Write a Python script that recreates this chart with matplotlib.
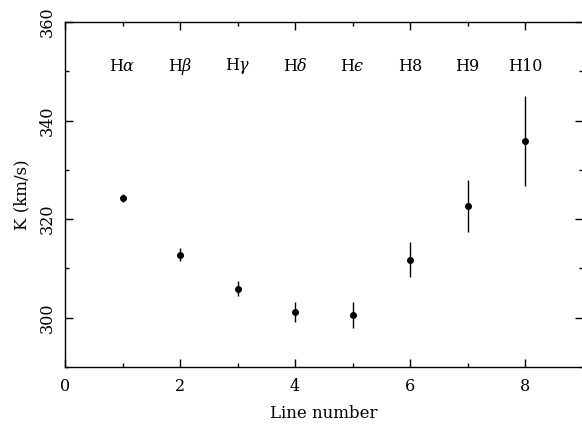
import matplotlib
matplotlib.use("Agg")
import matplotlib.pyplot as plt
from matplotlib.ticker import MultipleLocator

line_number = [1, 2, 3, 4, 5, 6, 7, 8]
K = [324.2, 312.8, 305.9, 301.1, 300.6, 311.8, 322.7, 335.9]
K_err = [0.8, 1.3, 1.5, 2.0, 2.6, 3.5, 5.3, 9.1]
line_names = ["H$\\alpha$", "H$\\beta$", "H$\\gamma$", "H$\\delta$",
              "H$\u03f5$", "H8", "H9", "H10"]

plt.rcParams['mathtext.fontset'] = 'dejavuserif'
plt.rcParams['font.family'] = ['DejaVu Serif']

fig = plt.figure(figsize=(5.82, 4.33), dpi=100)
ax = fig.add_axes([65/582, 66/433, 517.5/582, 345/433])

ax.errorbar(line_number, K, yerr=K_err, fmt='o', color='black', ms=4,
            elinewidth=1, capsize=0)
for x, name in zip(line_number, line_names):
    ax.text(x, 351, name, ha='center', va='center', fontsize=11.5)

ax.set_xlim(0, 9)
ax.set_ylim(290, 360)
ax.xaxis.set_major_locator(MultipleLocator(2))
ax.xaxis.set_minor_locator(MultipleLocator(1))
ax.yaxis.set_major_locator(MultipleLocator(20))
ax.yaxis.set_minor_locator(MultipleLocator(10))
ax.tick_params(which='both', direction='in', top=True, right=True, labelsize=11.5)
ax.tick_params(which='major', length=6, width=1)
ax.tick_params(which='minor', length=3, width=1)
ax.tick_params(axis='x', pad=8)
ax.tick_params(axis='y', pad=7)
for lab in ax.get_yticklabels():
    lab.set_rotation(90)
    lab.set_va('center')
for s in ax.spines.values():
    s.set_linewidth(1)

ax.set_xlabel("Line number", fontsize=12, labelpad=7)
ax.set_ylabel("K (km/s)", fontsize=12, labelpad=6)

fig.savefig("out.png", dpi=100)
